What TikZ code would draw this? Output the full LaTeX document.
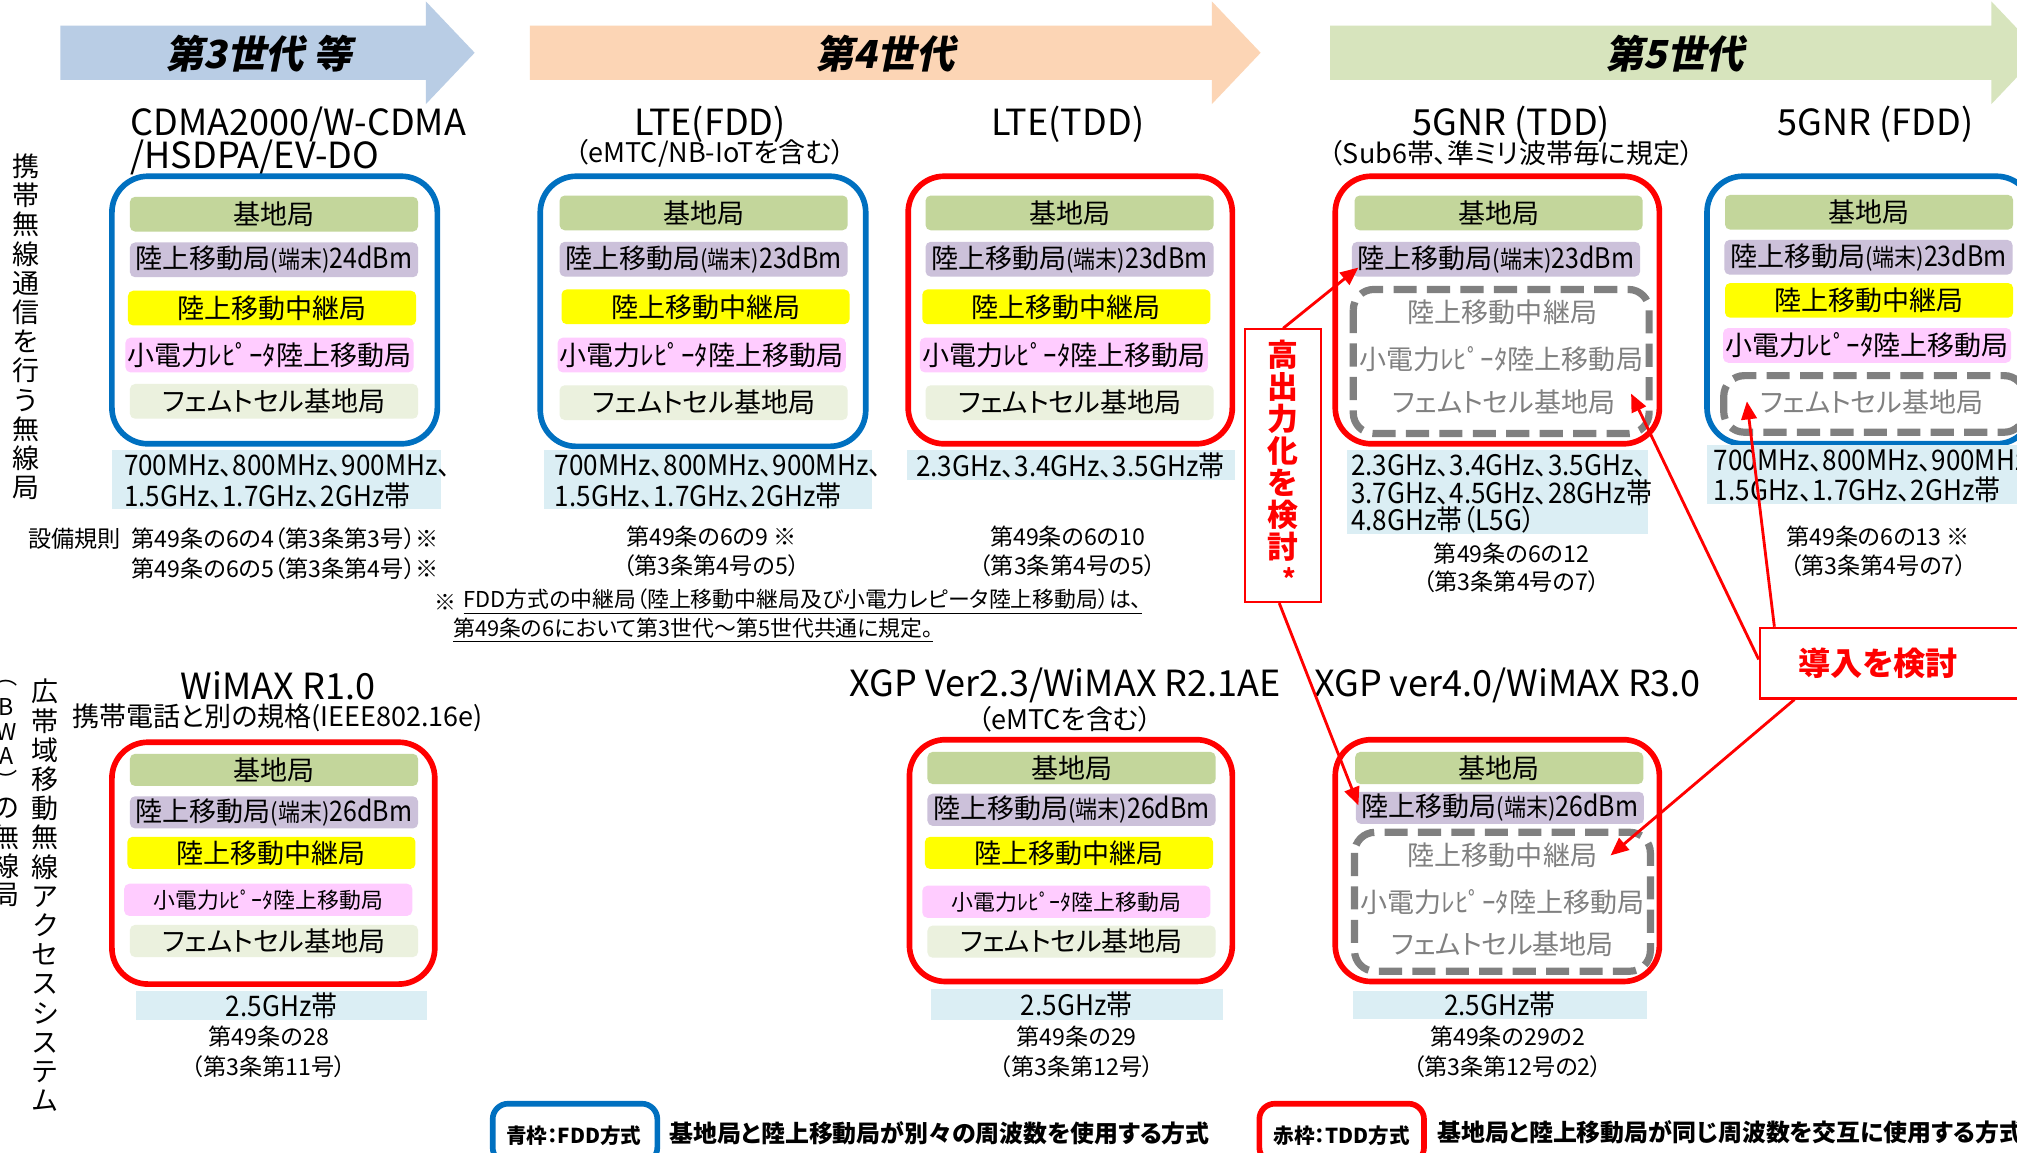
\documentclass[tikz,border=0pt]{standalone}
\usepackage{fontspec}
\setmainfont{Noto Sans CJK JP}[RawFeature=+palt]
\newfontfamily\genfont{Noto Sans CJK JP}[FakeSlant=0.2,RawFeature=+palt]
\usetikzlibrary{arrows.meta,calc}
\definecolor{fddblue}{HTML}{0070C0}
\definecolor{tddred}{HTML}{FF0000}
\definecolor{cgreen}{HTML}{C3D69B}
\definecolor{cpurple}{HTML}{CCC1DA}
\definecolor{cyellow}{HTML}{FFFF00}
\definecolor{cpink}{HTML}{FFCCFF}
\definecolor{cfemto}{HTML}{EBF1DE}
\definecolor{cband}{HTML}{DBEEF4}
\definecolor{cgray}{HTML}{808080}
\definecolor{arrblue}{HTML}{B9CDE5}
\definecolor{arrorange}{HTML}{FCD5B5}
\definecolor{arrgreen}{HTML}{D7E4BD}
\newcommand\fs[2]{\fontsize{#1}{#2}\selectfont}
\newcommand\rkj[1]{陸上移動局\scalebox{0.9}[1]{\fs{9.5pt}{10pt}(端末)}\scalebox{0.88}[1]{\fs{11pt}{11pt}#1dBm}}
\newcommand\pinkt{小電力ﾚﾋﾟｰﾀ陸上移動局}
\newcommand\bnd[1]{\scalebox{0.92}[1]{#1}}
\tikzset{
 fddbox/.style={draw=fddblue, line width=2.2pt, rounded corners=14pt},
 tddbox/.style={draw=tddred, line width=2.2pt, rounded corners=14pt},
 graybox/.style={draw=cgray, line width=2.8pt, rounded corners=8pt, dash pattern=on 9pt off 4pt},
 bar/.style={rounded corners=2pt, minimum width=112pt, minimum height=13.5pt, inner sep=0pt, font=\fs{10.5pt}{11pt}},
 barb/.style={bar, minimum height=12.5pt},
 gtext/.style={text=cgray, font=\fs{10.5pt}{11pt}, inner sep=0pt},
 bandtxt/.style={font=\fs{11pt}{11.5pt}, inner sep=0pt},
 ttl/.style={font=\fs{14pt}{16pt}, inner sep=0pt},
 subt/.style={font=\fs{10.5pt}{11pt}, inner sep=0pt},
 art/.style={font=\fs{9pt}{10pt}, inner sep=0pt},
 notet/.style={font=\fs{8.5pt}{9pt}, inner sep=0pt},
 vlab/.style={font=\fs{10.5pt}{11.35pt}, inner sep=0pt, align=center},
 vsmall/.style={font=\fs{9pt}{9pt}, inner sep=0pt},
 gen/.style={font=\genfont\bfseries\fs{15pt}{16pt}, inner sep=0pt},
 callbox/.style={draw=tddred, line width=0.8pt, inner sep=0pt},
 callarrow/.style={draw=tddred, line width=1.1pt, -{Triangle[length=7pt,width=6pt]}},
 legbox/.style={line width=2.2pt, rounded corners=6pt, inner sep=0pt, minimum width=64pt, minimum height=23pt},
}
\begin{document}
\begin{tikzpicture}[x=0.5pt,y=-0.5pt]
\useasboundingbox (0,0) rectangle (1568,896);
\clip (0,0) rectangle (1568,896);
\fill[white] (0,0) rectangle (1568,896);
% generation arrows
\fill[arrblue] (47,20) -- (331,20) -- (331,1) -- (369,41) -- (331,81) -- (331,62) -- (47,62) -- cycle;
\fill[arrorange] (412,20) -- (942,20) -- (942,1) -- (980,41) -- (942,81) -- (942,62) -- (412,62) -- cycle;
\fill[arrgreen] (1034,20) -- (1548,20) -- (1548,1) -- (1586,41) -- (1548,81) -- (1548,62) -- (1034,62) -- cycle;
\node[gen] (g3) at (201,42) {第3世代 等};
\node[gen] (g4) at (688,42) {第4世代};
\node[gen] (g5) at (1302,42) {第5世代};
% vertical labels
\node[vlab] (lab1) at (20,254) {携\\帯\\無\\線\\通\\信\\を\\行\\う\\無\\線\\局};
\node[vlab] (lab2) at (35,696) {広\\帯\\域\\移\\動\\無\\線\\ア\\ク\\セ\\ス\\シ\\ス\\テ\\ム};
\foreach \ch/\yy [count=\i] in {︵/531,B/550,W/569,A/588,︶/606}
  \node[vsmall] (lab3-\i) at (5,\yy) {\ch};
\foreach \ch/\yy [count=\i] in {の/628,無/651,線/673,局/696}
  \node[vlab] (lab4-\i) at (5,\yy) {\ch};
% titles
\node[ttl, anchor=west] (t1a) at (101,97) {CDMA2000/W-CDMA};
\node[ttl, anchor=west] (t1b) at (101,122) {/HSDPA/EV-DO};
\node[ttl] (t2) at (552,97) {LTE(FDD)};
\node[subt] (t2s) at (552,119) {（eMTC/NB-IoTを含む）};
\node[ttl] (t3) at (830,97) {LTE(TDD)};
\node[ttl] (t4) at (1175,97) {5GNR (TDD)};
\node[subt] (t4s) at (1175,119) {（Sub6帯、準ミリ波帯毎に規定）};
\node[ttl] (t5) at (1458,97) {5GNR (FDD)};
% column A
\draw[fddbox] (87,137) rectangle (340,345);
\node[bar, fill=cgreen] (a1) at (213,166.5) {基地局};
\node[bar, fill=cpurple] (a2) at (213,202) {\rkj{24}};
\node[bar, fill=cyellow] (a3) at (211.5,239.5) {陸上移動中継局};
\node[bar, fill=cpink] (a4) at (209.5,276) {\pinkt};
\node[bar, fill=cfemto] (a5) at (213,312) {フェムトセル基地局};
% column B
\draw[fddbox] (420,137) rectangle (673,347);
\node[bar, fill=cgreen] (b1) at (547,165.5) {基地局};
\node[bar, fill=cpurple] (b2) at (547,201.5) {\rkj{23}};
\node[bar, fill=cyellow] (b3) at (548.5,238.5) {陸上移動中継局};
\node[bar, fill=cpink] (b4) at (545.5,276) {\pinkt};
\node[bar, fill=cfemto] (b5) at (547,313) {フェムトセル基地局};
% column C
\draw[tddbox] (706,137) rectangle (958,345);
\node[bar, fill=cgreen] (c1) at (831.5,165.5) {基地局};
\node[bar, fill=cpurple] (c2) at (831.5,201.5) {\rkj{23}};
\node[bar, fill=cyellow] (c3) at (829,238.5) {陸上移動中継局};
\node[bar, fill=cpink] (c4) at (827,276) {\pinkt};
\node[bar, fill=cfemto] (c5) at (831.5,313) {フェムトセル基地局};
% column D
\draw[tddbox] (1038,137) rectangle (1290,345);
\node[bar, fill=cgreen] (d1) at (1165,165.5) {基地局};
\node[bar, fill=cpurple] (d2) at (1163,201.5) {\rkj{23}};
\draw[graybox] (1052,225) rectangle (1282,337);
\node[gtext] (d3) at (1168,243) {陸上移動中継局};
\node[gtext] (d4) at (1167,279) {\pinkt};
\node[gtext] (d5) at (1169,313) {フェムトセル基地局};
% column E
\draw[fddbox] (1327,137) rectangle (1580,345);
\node[bar, fill=cgreen] (e1) at (1453,165) {基地局};
\node[bar, fill=cpurple] (e2) at (1452.5,200) {\rkj{23}};
\node[bar, fill=cyellow] (e3) at (1453,233.5) {陸上移動中継局};
\node[bar, fill=cpink] (e4) at (1451.5,268.5) {\pinkt};
\draw[graybox] (1340,292) rectangle (1574,336);
\node[gtext] (e5) at (1455,313) {フェムトセル基地局};
% bands top
\fill[cband] (87,350) rectangle (343,396);
\node[bandtxt, anchor=west] (fa1) at (96,362) {\bnd{700MHz、800MHz、900MHz、}};
\node[bandtxt, anchor=west] (fa2) at (96,385) {\bnd{1.5GHz、1.7GHz、2GHz帯}};
\fill[cband] (423,350) rectangle (678,396);
\node[bandtxt, anchor=west] (fb1) at (431,362) {\bnd{700MHz、800MHz、900MHz、}};
\node[bandtxt, anchor=west] (fb2) at (431,385) {\bnd{1.5GHz、1.7GHz、2GHz帯}};
\fill[cband] (705,350) rectangle (960,373);
\node[bandtxt] (fc1) at (832,362) {\bnd{2.3GHz、3.4GHz、3.5GHz帯}};
\fill[cband] (1047,350) rectangle (1281,415);
\node[bandtxt, anchor=west] (fd1) at (1050,362) {\bnd{2.3GHz、3.4GHz、3.5GHz、}};
\node[bandtxt, anchor=west] (fd2) at (1050,383) {\bnd{3.7GHz、4.5GHz、28GHz帯}};
\node[bandtxt, anchor=west] (fd3) at (1050,404) {\bnd{4.8GHz帯（L5G）}};
\fill[cband] (1327,346) rectangle (1580,392);
\node[bandtxt, anchor=west] (fe1) at (1332,358) {\bnd{700MHz、800MHz、900MHz、}};
\node[bandtxt, anchor=west] (fe2) at (1332,381) {\bnd{1.5GHz、1.7GHz、2GHz帯}};
% articles top
\node[art] (r0) at (58,419) {設備規則};
\node[art, anchor=west] (ra1) at (102,419) {第49条の6の4（第3条第3号）※};
\node[art, anchor=west] (ra2) at (102,442) {第49条の6の5（第3条第4号）※};
\node[art] (rb1) at (553,417) {第49条の6の9 ※};
\node[art] (rb2) at (553,440) {（第3条第4号の5）};
\node[art] (rc1) at (830,417) {第49条の6の10};
\node[art] (rc2) at (830,440) {（第3条第4号の5）};
\node[art] (rd1) at (1175,430) {第49条の6の12};
\node[art] (rd2) at (1175,452) {（第3条第4号の7）};
\node[art] (re1) at (1460,417) {第49条の6の13 ※};
\node[art] (re2) at (1460,440) {（第3条第4号の7）};
% note
\node[notet, anchor=west] (nt0) at (337,468) {※};
\node[notet, anchor=west] (nt1) at (360,468) {\underline{FDD方式の中継局（陸上移動中継局及び小電力レピータ陸上移動局）は、}};
\node[notet, anchor=west] (nt2) at (352,490) {\underline{第49条の6において第3世代～第5世代共通に規定。}};
% bottom titles
\node[ttl] (t6) at (216,533) {WiMAX R1.0};
\node[subt] (t6s) at (216,558) {携帯電話と別の規格(IEEE802.16e)};
\node[ttl] (t7) at (828,533) {XGP Ver2.3/WiMAX R2.1AE};
\node[subt] (t7s) at (828,559) {（eMTCを含む）};
\node[ttl] (t8) at (1172,533) {XGP ver4.0/WiMAX R3.0};
% column F
\draw[tddbox] (87,577) rectangle (338,765);
\node[barb, fill=cgreen] (f1) at (213,598.5) {基地局};
\node[barb, fill=cpurple] (f2) at (213,631.5) {\rkj{26}};
\node[barb, fill=cyellow] (f3) at (211,663) {陸上移動中継局};
\node[barb, fill=cpink, font=\fs{8.5pt}{9pt}] (f4) at (208.5,699.5) {\pinkt};
\node[barb, fill=cfemto] (f5) at (213,731.5) {フェムトセル基地局};
% column G
\draw[tddbox] (707,575) rectangle (958,763);
\node[barb, fill=cgreen] (h1g) at (833,597) {基地局};
\node[barb, fill=cpurple] (g2) at (833,629.5) {\rkj{26}};
\node[barb, fill=cyellow] (g3b) at (831,663) {陸上移動中継局};
\node[barb, fill=cpink, font=\fs{8.5pt}{9pt}] (g4b) at (829,701) {\pinkt};
\node[barb, fill=cfemto] (g5b) at (833,732) {フェムトセル基地局};
% column H
\draw[tddbox] (1038,575) rectangle (1290,763);
\node[barb, fill=cgreen] (h1) at (1165.5,597) {基地局};
\node[barb, fill=cpurple] (h2) at (1166,628) {\rkj{26}};
\draw[graybox] (1053,647) rectangle (1283,755);
\node[gtext] (h3) at (1168,665) {陸上移動中継局};
\node[gtext] (h4) at (1168,701) {\pinkt};
\node[gtext] (h5) at (1168,734) {フェムトセル基地局};
% bands bottom
\fill[cband] (106,770) rectangle (332,793);
\node[bandtxt] (ff) at (219,781.5) {\bnd{2.5GHz帯}};
\fill[cband] (724,769) rectangle (951,793);
\node[bandtxt] (fg) at (837,781) {\bnd{2.5GHz帯}};
\fill[cband] (1052,770) rectangle (1280,792);
\node[bandtxt] (fh) at (1166,781) {\bnd{2.5GHz帯}};
% articles bottom
\node[art] (rf1) at (209,806) {第49条の28};
\node[art] (rf2) at (209,829) {（第3条第11号）};
\node[art] (rg1) at (837,806) {第49条の29};
\node[art] (rg2) at (837,829) {（第3条第12号）};
\node[art] (rh1) at (1172,806) {第49条の29の2};
\node[art] (rh2) at (1172,829) {（第3条第12号の2）};
% callouts
\node[callbox, minimum width=29.5pt, minimum height=106pt] (k1) at (997.5,362) {};
\node[font=\bfseries\fs{12pt}{12.4pt}, text=tddred, align=center, inner sep=0pt] (k1t) at (997,350.5) {高\\出\\力\\化\\を\\検\\討};
\node[text=tddred, font=\bfseries\fs{10pt}{10pt}, inner sep=0pt] (k1s) at (1002,449) {*};
\node[callbox, minimum width=106pt, minimum height=27.5pt] (k2) at (1474,515.5) {};
\node[text=tddred, font=\bfseries\fs{12.5pt}{13pt}, inner sep=0pt] (k2t) at (1460,516) {導入を検討};
\coordinate (tipa1) at (1056,208);
\coordinate (tipa2) at (1056,626);
\coordinate (tipb1) at (1268,306);
\coordinate (tipb2) at (1358,312);
\coordinate (tipb3) at (1252,665);
\draw[callarrow] (k1.north) -- (tipa1);
\draw[callarrow] ($(k1.south west)!0.45!(k1.south east)$) -- (tipa2);
\draw[callarrow] ($(k2.north west)!0.45!(k2.south west)$) -- (tipb1);
\draw[callarrow] ($(k2.north west)!0.057!(k2.north east)$) -- (tipb2);
\draw[callarrow] ($(k2.south west)!0.13!(k2.south east)$) -- (tipb3);
% legend
\node[legbox, draw=fddblue] (lg1) at (447,881) {};
\node[font=\bfseries\fs{8pt}{9pt}, inner sep=0pt] (lg1t) at (446,883) {青枠：FDD方式};
\node[font=\bfseries\fs{9.3pt}{10pt}, anchor=west, inner sep=0pt] (lg1d) at (520,881) {基地局と陸上移動局が別々の周波数を使用する方式};
\node[legbox, draw=tddred] (lg2) at (1043,881) {};
\node[font=\bfseries\fs{8pt}{9pt}, inner sep=0pt] (lg2t) at (1043,883) {赤枠：TDD方式};
\node[font=\bfseries\fs{9.3pt}{10pt}, anchor=west, inner sep=0pt] (lg2d) at (1117,880) {基地局と陸上移動局が同じ周波数を交互に使用する方式};
\end{tikzpicture}
\end{document}
